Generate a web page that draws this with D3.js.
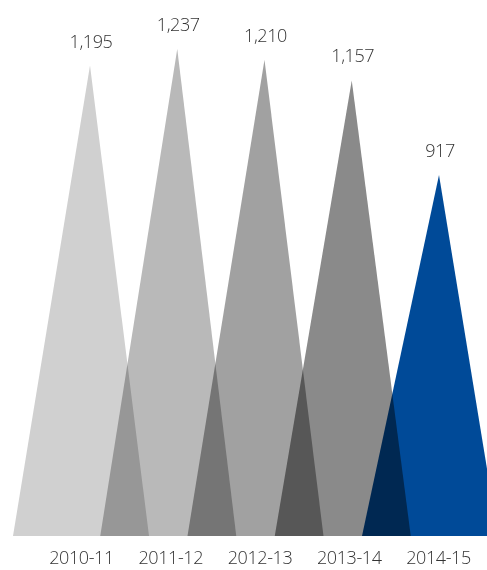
<!DOCTYPE html>
<html>
<head>
<meta charset="utf-8">
<script src="https://cdn.jsdelivr.net/npm/d3@7/dist/d3.min.js"></script>
<style>
  html, body { margin: 0; padding: 0; background: #fff; }
  svg { display: block; isolation: isolate; }
  .peak { mix-blend-mode: multiply; }
  text { font-family: "Open Sans", "Segoe UI", sans-serif; font-weight: 300; fill: #333; letter-spacing: -0.4px; }
</style>
</head>
<body>
<svg id="chart" width="487" height="570"></svg>
<script>
// Annual totals by year
const years = ["2010-11", "2011-12", "2012-13", "2013-14", "2014-15"];
const totals = [1195, 1237, 1210, 1157, 917];
const colours = ["#d0d0d0", "#b9b9b9", "#a1a1a1", "#8a8a8a", "#004a98"];

const width = 487, height = 570;
const baseY = 536;

const svg = d3.select("#chart");

// Triangle base positions: each base starts at the band start and is wider than a band,
// so neighbouring triangles overlap and darken via multiply blending.
const xBase = d3.scaleBand().domain(years).range([13, 13 + 5 * 87.25]).padding(0);
const baseWidth = 136;
const apexOffset = 77;

const y = d3.scaleLinear().domain([0, 1237]).range([baseY, baseY - 487]);

const data = years.map((yr, i) => ({ year: yr, value: totals[i], colour: colours[i] }));

svg.append("g")
  .selectAll("path")
  .data(data)
  .join("path")
  .attr("class", "peak")
  .attr("fill", d => d.colour)
  .attr("d", d => {
    const left = xBase(d.year);
    const line = d3.line();
    return line([
      [left, y(0)],
      [left + apexOffset, y(d.value)],
      [left + baseWidth, y(0)]
    ]) + "Z";
  });

// Value labels above each peak
svg.append("g")
  .selectAll("text")
  .data(data)
  .join("text")
  .attr("x", d => xBase(d.year) + apexOffset + 1)
  .attr("y", d => y(d.value) - 18)
  .attr("text-anchor", "middle")
  .attr("font-size", 18)
  .text(d => d3.format(",")(d.value));

// Category axis
const xAxis = d3.scalePoint().domain(years).range([81, 438]);
const axis = svg.append("g")
  .attr("transform", `translate(0,${baseY + 15})`)
  .call(d3.axisBottom(xAxis).tickSize(0).tickPadding(0));
axis.select(".domain").remove();
axis.selectAll("text")
  .attr("font-size", 18)
  .attr("font-family", null)
  .attr("fill", null)
  .attr("dy", "0.71em");
</script>
</body>
</html>
